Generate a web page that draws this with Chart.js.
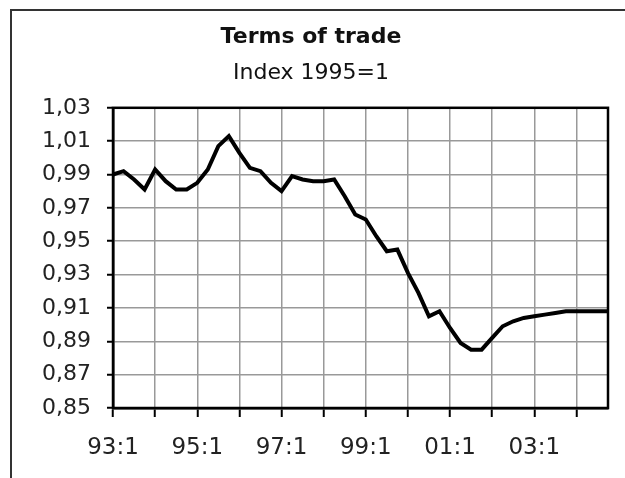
<!DOCTYPE html>
<html>
<head>
<meta charset="utf-8">
<script src="https://cdn.jsdelivr.net/npm/chart.js@4/dist/chart.umd.min.js"></script>
<style>
  html, body { margin: 0; padding: 0; background: #fff; }
  #c { display: block; }
</style>
</head>
<body>
<canvas id="c" width="625" height="478"></canvas>
<script>
const titleText = "Terms of trade";
const subtitleText = "Index 1995=1";

const categories = [
  "93:1","93:2","93:3","93:4","94:1","94:2","94:3","94:4",
  "95:1","95:2","95:3","95:4","96:1","96:2","96:3","96:4",
  "97:1","97:2","97:3","97:4","98:1","98:2","98:3","98:4",
  "99:1","99:2","99:3","99:4","00:1","00:2","00:3","00:4",
  "01:1","01:2","01:3","01:4","02:1","02:2","02:3","02:4",
  "03:1","03:2","03:3","03:4","04:1","04:2","04:3","04:4"
];

const termsOfTrade = [
  0.990, 0.992, 0.987, 0.981, 0.993, 0.986, 0.981, 0.981,
  0.985, 0.993, 1.007, 1.013, 1.003, 0.994, 0.992, 0.985,
  0.980, 0.989, 0.987, 0.986, 0.986, 0.987, 0.977, 0.966,
  0.963, 0.953, 0.944, 0.945, 0.931, 0.919, 0.905, 0.908,
  0.898, 0.889, 0.885, 0.885, 0.892, 0.899, 0.902, 0.904,
  0.905, 0.906, 0.907, 0.908, 0.908, 0.908, 0.908, 0.908
];

const yMin = 0.85;
const yMax = 1.03;
const yStep = 0.02;
const gridEvery = 4;   // one vertical gridline per year
const labelEvery = 8;  // one label every two years

const FONT = "'DejaVu Sans', 'Liberation Sans', Arial, sans-serif";

const framePlugin = {
  id: 'frame',
  beforeDraw(chart) {
    const ctx = chart.ctx;
    ctx.save();
    ctx.fillStyle = '#fff';
    ctx.fillRect(0, 0, chart.width, chart.height);
    ctx.strokeStyle = '#333';
    ctx.lineWidth = 2;
    ctx.beginPath();
    ctx.moveTo(11, chart.height);
    ctx.lineTo(11, 10);
    ctx.lineTo(chart.width, 10);
    ctx.stroke();
    ctx.restore();
  },
  beforeDatasetsDraw(chart) {
    const a = chart.chartArea;
    const ctx = chart.ctx;
    ctx.save();
    ctx.strokeStyle = '#000';
    ctx.lineWidth = 2.5;
    ctx.strokeRect(a.left, a.top, a.right - a.left, a.bottom - a.top);
    ctx.restore();
  }
};

new Chart(document.getElementById('c'), {
  type: 'line',
  data: {
    labels: categories,
    datasets: [{
      data: termsOfTrade,
      borderColor: '#000',
      borderWidth: 4,
      pointRadius: 0,
      tension: 0,
      fill: false,
      yAxisID: 'y'
    }]
  },
  plugins: [framePlugin],
  options: {
    responsive: false,
    animation: false,
    layout: { padding: { top: 0, left: 0, right: 3, bottom: 0 } },
    plugins: {
      legend: { display: false },
      tooltip: { enabled: false },
      title: {
        display: true,
        text: titleText,
        color: '#111',
        font: { family: FONT, size: 22, weight: 'bold', lineHeight: 1.2 },
        padding: { top: 24, bottom: 4 }
      },
      subtitle: {
        display: true,
        text: subtitleText,
        color: '#111',
        font: { family: FONT, size: 22, weight: 'normal', lineHeight: 1.2 },
        padding: { top: 6, bottom: 21 }
      }
    },
    scales: {
      x: {
        type: 'category',
        offset: false,
        afterFit: (scale) => { scale.height = 70; },
        grid: {
          display: true,
          drawTicks: true,
          tickLength: 9,
          lineWidth: 1.5,
          tickWidth: 2,
          color: (ctx) => (ctx.index % gridEvery === 0 ? '#999' : 'rgba(0,0,0,0)'),
          tickColor: (ctx) => (ctx.index % gridEvery === 0 ? '#000' : 'rgba(0,0,0,0)')
        },
        border: { display: true, color: '#000', width: 2.5 },
        ticks: {
          autoSkip: false,
          maxRotation: 0,
          minRotation: 0,
          padding: 17,
          color: '#222',
          font: { family: FONT, size: 23 },
          callback: function (value, index) {
            return index % labelEvery === 0 ? this.getLabelForValue(value) : '';
          }
        }
      },
      y: {
        position: 'left',
        min: yMin,
        max: yMax,
        afterFit: (scale) => { scale.width = 113; },
        grid: {
          display: true,
          drawTicks: true,
          tickLength: 6,
          lineWidth: 1.5,
          tickWidth: 2,
          color: '#999',
          tickColor: '#000'
        },
        border: { display: true, color: '#000', width: 2.5 },
        ticks: {
          stepSize: yStep,
          padding: 16,
          color: '#222',
          font: { family: FONT, size: 22 },
          callback: (v) => v.toFixed(2).replace('.', ',')
        }
      },
      yRightGap: {
        position: 'right',
        min: yMin,
        max: yMax,
        afterFit: (scale) => { scale.width = 10; },
        grid: { display: false, drawOnChartArea: false },
        border: { display: false },
        ticks: { display: false }
      }
    }
  }
});
</script>
</body>
</html>
